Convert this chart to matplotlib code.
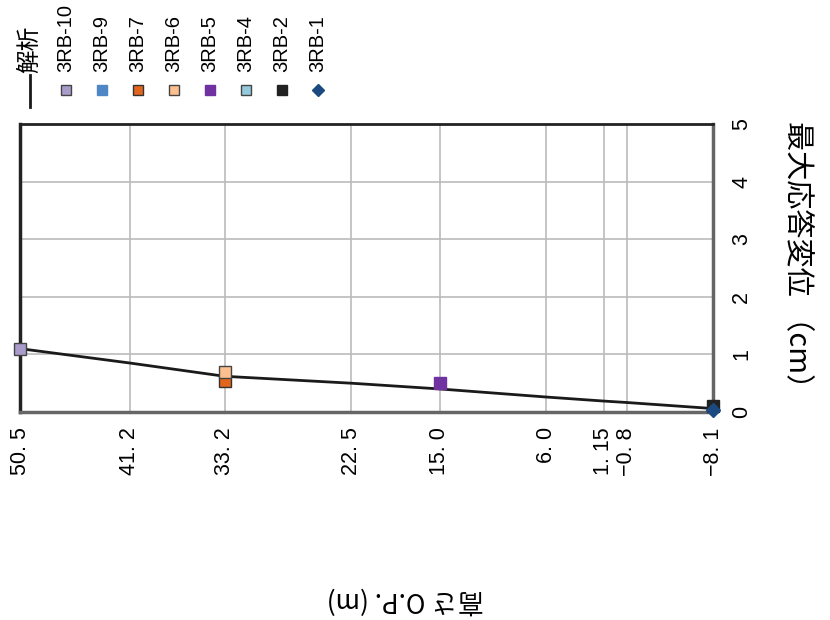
import matplotlib.pyplot as plt
from matplotlib.lines import Line2D

# 高さ O.P.(m) の目盛り
heights = [50.5, 41.2, 33.2, 22.5, 15.0, 6.0, 1.15, -0.8, -8.1]
tick_labels = ["50. 5", "41. 2", "33. 2", "22. 5", "15. 0", "6. 0", "1. 15",
               "\u22120. 8", "\u22128. 1"]

# 解析による最大応答変位 (cm)
analysis = [1.10, 0.85, 0.62, 0.50, 0.40, 0.26, 0.19, 0.165, 0.06]

# 観測値 (系列名, 高さ, 変位)
series_names = ["3RB-10", "3RB-9", "3RB-7", "3RB-6", "3RB-5", "3RB-4", "3RB-2", "3RB-1"]
obs_height = {"3RB-10": [50.5], "3RB-9": [], "3RB-7": [33.2], "3RB-6": [33.2],
              "3RB-5": [15.0], "3RB-4": [], "3RB-2": [-8.1], "3RB-1": [-8.1]}
obs_disp = {"3RB-10": [1.10], "3RB-9": [], "3RB-7": [0.53], "3RB-6": [0.69],
            "3RB-5": [0.50], "3RB-4": [], "3RB-2": [0.11], "3RB-1": [0.04]}

styles = {
    "3RB-10": dict(marker="s", mfc="#a99ccb", mec="#444444"),
    "3RB-9": dict(marker="s", mfc="#4f86c6", mec="#4f86c6"),
    "3RB-7": dict(marker="s", mfc="#e2661c", mec="#333333"),
    "3RB-6": dict(marker="s", mfc="#fcc08e", mec="#444444"),
    "3RB-5": dict(marker="s", mfc="#6f32a0", mec="#6f32a0"),
    "3RB-4": dict(marker="s", mfc="#93cbdc", mec="#444444"),
    "3RB-2": dict(marker="s", mfc="#222222", mec="#222222"),
    "3RB-1": dict(marker="D", mfc="#1a4a80", mec="#1a4a80"),
}

jp = ["Noto Sans CJK JP", "DejaVu Sans"]
num = ["Liberation Sans", "DejaVu Sans"]

fig = plt.figure(figsize=(8.3, 6.2), dpi=100)
ax = fig.add_axes([20 / 830, 1 - 412 / 620, 693 / 830, 288 / 620])

# 解析線
ax.plot(heights, analysis, color="#1a1a1a", lw=2, zorder=3)

# 観測点
order = ["3RB-9", "3RB-4", "3RB-5", "3RB-7", "3RB-6", "3RB-10", "3RB-2", "3RB-1"]
for name in order:
    st = styles[name]
    ms = 7 if st["marker"] == "D" else 8
    ax.plot(obs_height[name], obs_disp[name], ls="none", marker=st["marker"],
            mfc=st["mfc"], mec=st["mec"], mew=1, ms=ms, zorder=4, clip_on=False)

# 軸の設定 (高さは左が上端)
ax.set_xlim(50.5, -8.1)
ax.set_ylim(0, 5)
ax.set_xticks(heights)
ax.set_xticklabels(tick_labels, rotation=90, fontfamily=num, fontsize=15.5)
ax.set_yticks([0, 1, 2, 3, 4, 5])
ax.yaxis.tick_right()
ax.tick_params(axis="x", length=0, pad=11)
ax.tick_params(axis="y", length=0, pad=13, labelrotation=90)
for lab in ax.get_yticklabels():
    lab.set_fontfamily(num)
    lab.set_fontsize(15.5)
    lab.set_va("center")
ax.grid(True, color="#bbbbbb", lw=1.2)
ax.set_axisbelow(True)

ax.spines["left"].set_color("#222222")
ax.spines["left"].set_linewidth(2.5)
ax.spines["top"].set_color("#222222")
ax.spines["top"].set_linewidth(2)
ax.spines["bottom"].set_color("#666666")
ax.spines["bottom"].set_linewidth(2.5)
ax.spines["right"].set_color("#666666")
ax.spines["right"].set_linewidth(2.5)

# 軸ラベル
fig.text(797 / 830, 1 - 262 / 620, "最大応答変位 （cm）", rotation=-90,
         ha="center", va="center", fontfamily=jp, fontsize=21)
fig.text(405 / 830, 1 - 600 / 620, "高さ O.P. (m)", rotation=180,
         ha="center", va="center", fontfamily=jp, fontsize=19)

# 凡例 (縦書き)
fig.add_artist(Line2D([30 / 830, 30 / 830], [1 - 107 / 620, 1 - 75 / 620],
                      color="#1a1a1a", lw=2, transform=fig.transFigure))
fig.text(30 / 830, 1 - 73 / 620, "解析", rotation=90, ha="center", va="bottom",
         fontfamily=jp, fontsize=17)
for i, name in enumerate(series_names):
    x = (66 + i * 36) / 830
    st = styles[name]
    ms = 6.5 if st["marker"] == "D" else 7.5
    fig.add_artist(Line2D([x], [1 - 90 / 620], ls="none", marker=st["marker"],
                          mfc=st["mfc"], mec=st["mec"], mew=1, ms=ms,
                          transform=fig.transFigure))
    fig.text(x, 1 - 72 / 620, name, rotation=90, ha="center", va="bottom",
             fontfamily=num, fontsize=14.5)

fig.savefig("out.png", dpi=100)
